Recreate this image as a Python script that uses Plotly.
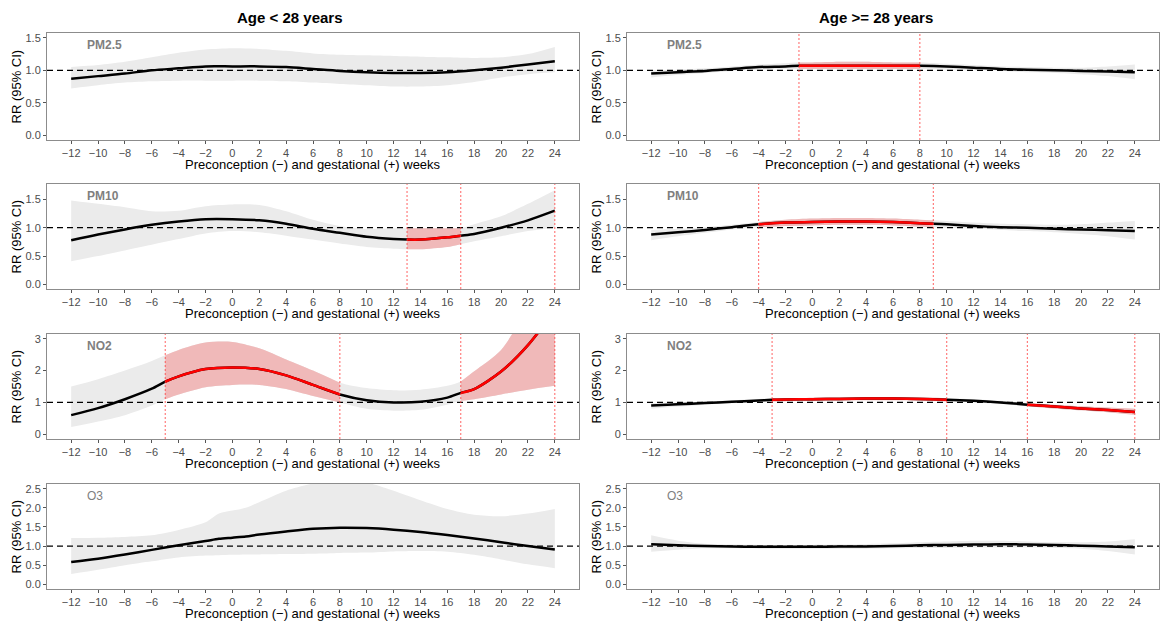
import plotly.graph_objects as go

# ---------------- data ----------------
pollutants = ["PM2.5", "PM10", "NO2", "O3"]
groups = ["Age < 28 years", "Age >= 28 years"]
x_ticks = list(range(-12, 25, 2))

# Age < 28
young_pm25_weeks = [-12, -10, -8, -6, -4, -2, 0, 2, 4, 6, 8, 10, 12, 14, 16, 18, 20, 22, 24]
young_pm25_fit = [0.87, 0.91, 0.95, 1.00, 1.03, 1.06, 1.06, 1.06, 1.05, 1.02, 0.99, 0.97, 0.96, 0.96, 0.97, 1.00, 1.04, 1.09, 1.14]
young_pm25_hi = [1.05, 1.08, 1.13, 1.20, 1.27, 1.32, 1.34, 1.33, 1.30, 1.26, 1.24, 1.23, 1.22, 1.21, 1.20, 1.19, 1.20, 1.25, 1.36]
young_pm25_lo = [0.72, 0.77, 0.81, 0.83, 0.84, 0.84, 0.84, 0.84, 0.83, 0.81, 0.79, 0.77, 0.75, 0.75, 0.77, 0.82, 0.89, 0.94, 0.97]

young_pm10_weeks = [-12, -10, -8, -6, -4, -2, 0, 2, 4, 6, 8, 10, 12, 13, 14, 16, 17, 18, 20, 22, 24]
young_pm10_fit = [0.78, 0.88, 0.97, 1.05, 1.11, 1.15, 1.15, 1.13, 1.07, 0.98, 0.91, 0.84, 0.80, 0.79, 0.79, 0.83, 0.86, 0.89, 1.00, 1.13, 1.30]
young_pm10_hi = [1.48, 1.42, 1.36, 1.29, 1.30, 1.38, 1.41, 1.40, 1.29, 1.14, 1.03, 0.98, 0.99, 0.99, 0.99, 0.99, 0.99, 1.06, 1.20, 1.42, 1.66]
young_pm10_lo = [0.41, 0.50, 0.60, 0.70, 0.80, 0.90, 0.94, 0.92, 0.86, 0.79, 0.72, 0.66, 0.63, 0.62, 0.62, 0.66, 0.71, 0.76, 0.85, 0.94, 1.00]

young_no2_weeks = [-12, -10, -8, -6, -5, -4, -2, 0, 2, 4, 6, 8, 10, 12, 14, 16, 17, 18, 20, 22, 24]
young_no2_fit = [0.60, 0.82, 1.10, 1.43, 1.65, 1.82, 2.05, 2.10, 2.05, 1.85, 1.55, 1.25, 1.07, 1.00, 1.02, 1.15, 1.30, 1.42, 1.97, 2.80, 3.90]
young_no2_hi = [1.50, 1.73, 2.00, 2.30, 2.48, 2.65, 2.88, 2.90, 2.70, 2.35, 2.00, 1.62, 1.45, 1.38, 1.40, 1.52, 1.66, 1.98, 2.65, 4.00, 5.50]
young_no2_lo = [0.23, 0.40, 0.60, 0.90, 1.10, 1.25, 1.48, 1.55, 1.55, 1.42, 1.20, 1.00, 0.80, 0.74, 0.77, 0.93, 1.05, 1.10, 1.25, 1.40, 1.52]

young_o3_weeks = [-12, -10, -8, -6, -4, -2, -1, 0, 1, 2, 4, 6, 8, 10, 12, 14, 16, 18, 20, 22, 24]
young_o3_fit = [0.58, 0.67, 0.78, 0.90, 1.02, 1.13, 1.19, 1.22, 1.25, 1.30, 1.38, 1.45, 1.48, 1.47, 1.43, 1.37, 1.29, 1.20, 1.10, 1.00, 0.91]
young_o3_hi = [1.21, 1.22, 1.24, 1.28, 1.42, 1.62, 1.85, 1.93, 2.00, 2.15, 2.45, 2.64, 2.72, 2.66, 2.45, 2.20, 1.97, 1.82, 1.78, 1.85, 1.97]
young_o3_lo = [0.27, 0.38, 0.50, 0.60, 0.70, 0.75, 0.76, 0.77, 0.78, 0.78, 0.79, 0.80, 0.82, 0.83, 0.86, 0.87, 0.85, 0.77, 0.65, 0.52, 0.42]

# Age >= 28
older_pm25_weeks = [-12, -10, -8, -6, -4, -2, -1, 0, 2, 4, 6, 8, 10, 12, 14, 16, 18, 20, 22, 24]
older_pm25_fit = [0.95, 0.97, 0.99, 1.02, 1.05, 1.06, 1.07, 1.07, 1.07, 1.07, 1.07, 1.07, 1.06, 1.04, 1.02, 1.01, 1.00, 0.99, 0.98, 0.97]
older_pm25_hi = [1.00, 1.01, 1.03, 1.06, 1.09, 1.11, 1.12, 1.12, 1.13, 1.13, 1.12, 1.12, 1.10, 1.08, 1.06, 1.05, 1.04, 1.04, 1.06, 1.09]
older_pm25_lo = [0.89, 0.93, 0.96, 0.99, 1.01, 1.02, 1.02, 1.02, 1.02, 1.02, 1.02, 1.02, 1.01, 1.00, 0.99, 0.97, 0.96, 0.94, 0.91, 0.86]

older_pm10_weeks = [-12, -10, -8, -6, -4, -2, 0, 2, 4, 6, 8, 9, 10, 12, 14, 16, 18, 20, 22, 24]
older_pm10_fit = [0.88, 0.92, 0.96, 1.01, 1.06, 1.09, 1.10, 1.11, 1.11, 1.10, 1.08, 1.07, 1.06, 1.03, 1.01, 1.00, 0.98, 0.97, 0.955, 0.94]
older_pm10_hi = [0.96, 0.98, 1.01, 1.05, 1.10, 1.14, 1.16, 1.17, 1.17, 1.16, 1.14, 1.13, 1.12, 1.09, 1.07, 1.06, 1.05, 1.06, 1.09, 1.12]
older_pm10_lo = [0.78, 0.85, 0.91, 0.97, 1.01, 1.03, 1.04, 1.05, 1.05, 1.04, 1.02, 1.01, 1.00, 0.98, 0.96, 0.94, 0.92, 0.89, 0.85, 0.79]

older_no2_weeks = [-12, -10, -8, -6, -4, -3, -2, 0, 2, 4, 6, 8, 10, 12, 14, 16, 18, 20, 22, 24]
older_no2_fit = [0.90, 0.94, 0.98, 1.02, 1.06, 1.08, 1.09, 1.10, 1.11, 1.12, 1.12, 1.11, 1.08, 1.05, 1.00, 0.93, 0.87, 0.81, 0.76, 0.70]
older_no2_hi = [0.98, 1.00, 1.03, 1.07, 1.11, 1.12, 1.13, 1.15, 1.16, 1.17, 1.17, 1.16, 1.13, 1.10, 1.05, 0.98, 0.93, 0.88, 0.84, 0.80]
older_no2_lo = [0.80, 0.87, 0.93, 0.97, 1.01, 1.03, 1.04, 1.05, 1.06, 1.07, 1.07, 1.06, 1.03, 1.00, 0.95, 0.88, 0.81, 0.75, 0.69, 0.61]

older_o3_weeks = [-12, -10, -8, -6, -4, -2, 0, 2, 4, 6, 8, 10, 12, 14, 16, 18, 20, 22, 24]
older_o3_fit = [1.05, 1.02, 1.00, 0.99, 0.98, 0.98, 0.98, 0.985, 0.99, 1.00, 1.02, 1.03, 1.04, 1.05, 1.04, 1.03, 1.01, 0.99, 0.97]
older_o3_hi = [1.28, 1.14, 1.06, 1.04, 1.03, 1.03, 1.03, 1.04, 1.05, 1.07, 1.10, 1.12, 1.14, 1.14, 1.12, 1.10, 1.10, 1.12, 1.18]
older_o3_lo = [0.85, 0.90, 0.94, 0.94, 0.93, 0.93, 0.93, 0.93, 0.93, 0.94, 0.95, 0.95, 0.96, 0.96, 0.96, 0.95, 0.93, 0.87, 0.78]

# significant windows and marker lines
young_windows = {"PM2.5": [], "PM10": [(13, 17)], "NO2": [(-5, 8), (17, 24)], "O3": []}
young_vlines = {"PM2.5": [], "PM10": [13, 17, 24], "NO2": [-5, 8, 17, 24], "O3": []}
older_windows = {"PM2.5": [(-1, 8)], "PM10": [(-4, 9)], "NO2": [(-3, 10), (16, 24)], "O3": []}
older_vlines = {"PM2.5": [-1, 8], "PM10": [-4, 9], "NO2": [-3, 10, 16, 24], "O3": []}

y_ticks = {"PM2.5": [0, 0.5, 1.0, 1.5], "PM10": [0, 0.5, 1.0, 1.5], "NO2": [0, 1, 2, 3], "O3": [0, 0.5, 1.0, 1.5, 2.0, 2.5]}
y_ranges = {"PM2.5": [-0.075, 1.575], "PM10": [-0.08, 1.77], "NO2": [-0.15, 3.15], "O3": [-0.125, 2.625]}
y_fmt = {"PM2.5": "{:.1f}", "PM10": "{:.1f}", "NO2": "{:.0f}", "O3": "{:.1f}"}
label_bold = {"PM2.5": True, "PM10": True, "NO2": True, "O3": False}

data = {
    (0, "PM2.5"): (young_pm25_weeks, young_pm25_fit, young_pm25_lo, young_pm25_hi),
    (0, "PM10"): (young_pm10_weeks, young_pm10_fit, young_pm10_lo, young_pm10_hi),
    (0, "NO2"): (young_no2_weeks, young_no2_fit, young_no2_lo, young_no2_hi),
    (0, "O3"): (young_o3_weeks, young_o3_fit, young_o3_lo, young_o3_hi),
    (1, "PM2.5"): (older_pm25_weeks, older_pm25_fit, older_pm25_lo, older_pm25_hi),
    (1, "PM10"): (older_pm10_weeks, older_pm10_fit, older_pm10_lo, older_pm10_hi),
    (1, "NO2"): (older_no2_weeks, older_no2_fit, older_no2_lo, older_no2_hi),
    (1, "O3"): (older_o3_weeks, older_o3_fit, older_o3_lo, older_o3_hi),
}
windows = [young_windows, older_windows]
vlines = [young_vlines, older_vlines]

# ---------------- layout geometry (pixels) ----------------
W, H = 1162, 621
col_x = [(47, 579), (627, 1159)]
row_y = [(33, 140), (184, 289), (334, 439), (484, 589)]

GRAY_FILL = "#ebebeb"
RED_FILL = "#f0b9b9"
FONT = "Liberation Sans, Arial, sans-serif"

fig = go.Figure()
layout = dict(
    width=W, height=H, margin=dict(l=0, r=0, t=0, b=0, autoexpand=False),
    paper_bgcolor="white", plot_bgcolor="white", showlegend=False,
    font=dict(family=FONT),
)
shapes, annotations = [], []


def sub(pts, vals, a, b):
    return [v for p, v in zip(pts, vals) if a <= p <= b]


line_kw = dict(shape="spline", smoothing=0.8)

idx = 0
for c in range(2):
    for r, pol in enumerate(pollutants):
        idx += 1
        xa = "x" if idx == 1 else f"x{idx}"
        ya = "y" if idx == 1 else f"y{idx}"
        wk, fit, lo, hi = data[(c, pol)]

        # grey ribbon
        fig.add_trace(go.Scatter(x=wk, y=lo, mode="lines", line=dict(width=0, **line_kw),
                                 xaxis=xa, yaxis=ya, hoverinfo="skip"))
        fig.add_trace(go.Scatter(x=wk, y=hi, mode="lines", line=dict(width=0, **line_kw),
                                 fill="tonexty", fillcolor=GRAY_FILL, xaxis=xa, yaxis=ya, hoverinfo="skip"))
        # red ribbons
        for (a, b) in windows[c][pol]:
            sx = sub(wk, wk, a, b)
            fig.add_trace(go.Scatter(x=sx, y=sub(wk, lo, a, b), mode="lines", line=dict(width=0, **line_kw),
                                     xaxis=xa, yaxis=ya, hoverinfo="skip"))
            fig.add_trace(go.Scatter(x=sx, y=sub(wk, hi, a, b), mode="lines", line=dict(width=0, **line_kw),
                                     fill="tonexty", fillcolor=RED_FILL, xaxis=xa, yaxis=ya, hoverinfo="skip"))
        # black fit
        fig.add_trace(go.Scatter(x=wk, y=fit, mode="lines", line=dict(color="black", width=2.5, **line_kw),
                                 xaxis=xa, yaxis=ya))
        # red fit segments
        for (a, b) in windows[c][pol]:
            fig.add_trace(go.Scatter(x=sub(wk, wk, a, b), y=sub(wk, fit, a, b), mode="lines",
                                     line=dict(color="#ff0000", width=2.5, **line_kw), xaxis=xa, yaxis=ya))

        x0p, x1p = col_x[c]
        y0p, y1p = row_y[r]
        axis_common = dict(showgrid=False, zeroline=False, showline=True, mirror=True,
                           linecolor="#8c8c8c", linewidth=1, ticks="outside", ticklen=3,
                           tickcolor="#555555", tickwidth=1,
                           tickfont=dict(size=11, color="#4d4d4d", family=FONT))
        layout["xaxis" if idx == 1 else f"xaxis{idx}"] = dict(
            domain=[x0p / W, x1p / W], anchor=ya, range=[-13.8, 25.8],
            tickmode="array", tickvals=x_ticks,
            ticktext=[(str(t) if t >= 0 else "\u2212" + str(-t)) for t in x_ticks],
            **axis_common)
        layout["yaxis" if idx == 1 else f"yaxis{idx}"] = dict(
            domain=[1 - y1p / H, 1 - y0p / H], anchor=xa, range=y_ranges[pol],
            tickmode="array", tickvals=y_ticks[pol],
            ticktext=[y_fmt[pol].format(v) for v in y_ticks[pol]],
            **axis_common)

        # reference line at RR = 1
        shapes.append(dict(type="line", xref=f"{xa} domain", yref=ya, x0=0, x1=1, y0=1, y1=1,
                           line=dict(color="black", width=1.3, dash="6px,4px"), layer="above"))
        for v in vlines[c][pol]:
            shapes.append(dict(type="line", xref=xa, yref=f"{ya} domain", x0=v, x1=v, y0=0, y1=1,
                               line=dict(color="rgba(255,60,60,0.8)", width=1, dash="2px,2px"), layer="above"))
        # pollutant label
        txt = f"<b>{pol}</b>" if label_bold[pol] else pol
        annotations.append(dict(xref=xa, yref=f"{ya} domain", x=-11.0, y=0.885, xanchor="left",
                                yanchor="middle", text=txt, showarrow=False,
                                font=dict(size=12, color="#7f7f7f", family=FONT)))
        # x title
        annotations.append(dict(xref="paper", yref="paper", x=(x0p + x1p) / 2 / W, y=1 - (y1p + 24) / H,
                                xanchor="center", yanchor="middle", showarrow=False,
                                text="Preconception (\u2212) and gestational (+) weeks",
                                font=dict(size=13, color="black", family=FONT)))
        # y title
        annotations.append(dict(xref="paper", yref="paper", x=(x0p - 31) / W, y=1 - (y0p + y1p) / 2 / H,
                                xanchor="center", yanchor="middle", textangle=-90, showarrow=False,
                                text="RR (95% CI)", font=dict(size=13, color="black", family=FONT)))

# column titles
for c, g in enumerate(groups):
    cx = [290, 876][c]
    annotations.append(dict(xref="paper", yref="paper", x=cx / W, y=1 - 17 / H, xanchor="center",
                            yanchor="middle", showarrow=False, text=f"<b>{g}</b>",
                            font=dict(size=15, color="black", family=FONT)))

layout["shapes"] = shapes
layout["annotations"] = annotations
fig.update_layout(**layout)
fig.write_html(
    "out.html",
    config={"displayModeBar": False},
    post_script="document.documentElement.style.margin='0';document.body.style.margin='0';"
                "document.body.style.padding='0';document.body.style.overflow='hidden';",
)
